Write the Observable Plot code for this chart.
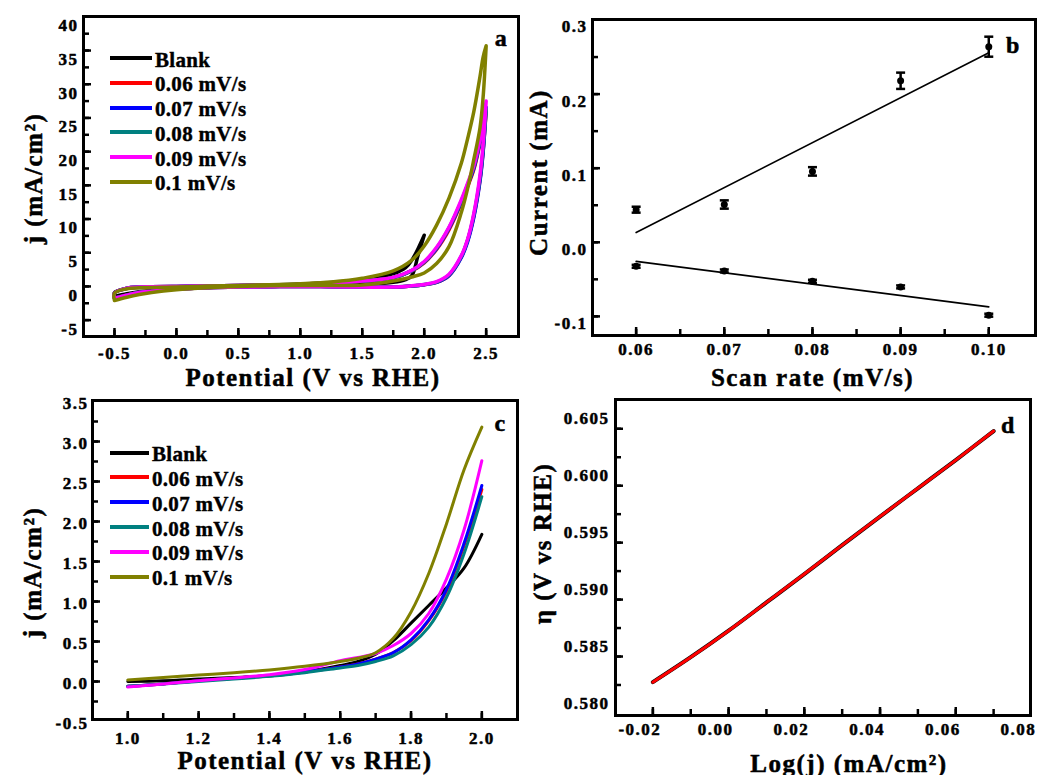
<!DOCTYPE html>
<html><head><meta charset="utf-8">
<script src="https://cdn.jsdelivr.net/npm/d3@7"></script>
<script src="https://cdn.jsdelivr.net/npm/@observablehq/plot@0.6"></script>
<style>
body{margin:0;background:#fff;}
#wrap{position:relative;width:1038px;height:775px;overflow:hidden;background:#fff;}
.panel{position:absolute;}
.panel svg text{stroke:#000;stroke-width:0.5px;stroke-linejoin:round;}
.legend{position:absolute;font-family:"Liberation Serif","Times New Roman",serif;font-weight:bold;font-size:21px;color:#000;-webkit-text-stroke:0.4px #000;}
.legend .row{position:absolute;left:0;height:24px;display:flex;align-items:center;white-space:nowrap;letter-spacing:0.3px;}
.legend .sw{display:inline-block;height:4px;margin-right:3px;}
.legend .tx{position:relative;top:2px;}
</style></head><body><div id="wrap"></div>
<script>
// ---------- shared series ----------
const seriesNames  = ["Blank", "0.06 mV/s", "0.07 mV/s", "0.08 mV/s", "0.09 mV/s", "0.1 mV/s"];
const seriesColors = ["#000000", "#ff0000", "#0000ff", "#008080", "#ff00ff", "#808000"];

// ---------- panel a : cyclic voltammograms ----------
const aGridV  = [-0.5,-0.4,-0.3,-0.2,0,0.25,0.5,0.75,1.0,1.25,1.5,1.75,1.9,2.0,2.1,2.2,2.3,2.35,2.4,2.45,2.475,2.5];
const aBlankV = [-0.5,-0.4,-0.3,-0.2,0,0.25,0.5,0.75,1.0,1.25,1.5,1.75,1.85,1.9,1.95,2.0];
const aBlankFwd = [-1.5,-1.1,-0.8,-0.6,-0.35,-0.15,-0.05,0.0,0.1,0.15,0.3,0.6,1.0,1.6,4.6,7.6];
const aBlankRev = [-0.9,-0.3,-0.15,-0.1,-0.05,0.0,0.1,0.2,0.35,0.6,1.0,1.9,2.8,3.9,5.6,7.6];
const a006Fwd = [-1.7,-1.25,-0.9,-0.7,-0.4,-0.2,-0.1,-0.05,0.0,-0.05,-0.1,-0.1,0.05,0.25,0.6,1.6,4.4,6.8,10.4,15.8,20.0,26.0];
const a006Rev = [-1.0,-0.25,-0.1,-0.05,0.0,0.08,0.15,0.2,0.3,0.5,0.8,1.3,2.3,3.5,5.5,8.4,12.4,14.8,17.3,21.2,23.8,26.0];
const a007Fwd = [-1.75,-1.3,-0.9,-0.7,-0.4,-0.2,-0.1,-0.05,0.0,-0.05,-0.1,-0.1,0.05,0.25,0.6,1.6,4.3,6.6,10.2,15.6,19.8,26.6];
const a007Rev = [-1.0,-0.25,-0.1,-0.05,0.0,0.08,0.15,0.2,0.3,0.5,0.8,1.3,2.35,3.6,5.6,8.6,12.6,15.0,17.5,21.4,24.0,26.6];
const a008Fwd = [-1.75,-1.3,-0.9,-0.7,-0.4,-0.2,-0.1,-0.05,0.0,-0.05,-0.1,-0.1,0.05,0.28,0.65,1.7,4.5,6.9,10.6,16.0,20.2,26.3];
const a008Rev = [-1.0,-0.25,-0.1,-0.05,0.0,0.08,0.15,0.2,0.3,0.5,0.8,1.3,2.35,3.6,5.7,8.7,12.7,15.1,17.7,21.6,24.2,26.3];
const a009Fwd = [-1.8,-1.3,-0.9,-0.7,-0.4,-0.2,-0.1,-0.05,0.0,-0.05,-0.1,-0.1,0.1,0.3,0.7,1.8,4.6,7.0,10.8,16.5,21.0,27.5];
const a009Rev = [-1.0,-0.25,-0.1,-0.05,0.0,0.08,0.15,0.2,0.3,0.5,0.8,1.35,2.4,3.7,5.8,8.8,12.9,15.3,17.9,21.8,24.5,27.5];
const a010Fwd = [-2.1,-1.6,-1.2,-0.9,-0.5,-0.2,0.0,0.1,0.15,0.15,0.2,0.8,1.4,2.0,3.4,5.9,11.0,14.5,18.8,23.5,28.0,35.7];
const a010Rev = [-1.0,-0.35,-0.2,-0.15,-0.1,0.05,0.15,0.25,0.4,0.65,1.2,2.3,3.9,6.0,9.1,13.1,18.3,21.9,25.9,31.1,34.0,35.7];

// ---------- panel b : peak current vs scan rate ----------
const bScan        = [0.06, 0.07, 0.08, 0.09, 0.10];
const bAnodic      = [0.044, 0.051, 0.0957, 0.218, 0.264];
const bAnodicErr   = [0.004, 0.0056, 0.0057, 0.011, 0.0135];
const bCathodic    = [-0.0324, -0.0387, -0.0526, -0.0602, -0.0984];
const bCathodicErr = [0.002, 0.002, 0.002, 0.002, 0.002];

// ---------- panel c : LSV ----------
const cV      = [1.0,1.1,1.2,1.3,1.4,1.5,1.6,1.65,1.7,1.75,1.8,1.85,1.9,1.95,2.0];
const cBlank  = [0.0,0.01,0.03,0.05,0.07,0.12,0.2,0.25,0.34,0.51,0.73,0.95,1.17,1.42,1.84];
const c006    = [-0.06,-0.03,0.01,0.04,0.075,0.12,0.18,0.22,0.28,0.36,0.51,0.76,1.13,1.7,2.4];
const c007    = [-0.06,-0.03,0.01,0.04,0.075,0.12,0.18,0.22,0.28,0.36,0.52,0.77,1.15,1.73,2.45];
const c008    = [-0.06,-0.03,0.0,0.03,0.065,0.11,0.17,0.2,0.25,0.32,0.46,0.68,1.05,1.6,2.31];
const c009    = [-0.07,-0.03,0.01,0.045,0.085,0.15,0.26,0.3,0.35,0.45,0.6,0.85,1.28,1.9,2.76];
const c010    = [0.02,0.05,0.08,0.11,0.145,0.19,0.25,0.29,0.36,0.54,0.87,1.35,1.97,2.65,3.18];

// ---------- panel d : Tafel ----------
const dLogJ = [-0.02,-0.01,0.0,0.01,0.02,0.03,0.04,0.05,0.06,0.07];
const dEta  = [0.58275,0.58494,0.58727,0.58975,0.59224,0.59478,0.59729,0.59977,0.60225,0.6048];

// ---------- tick values ----------
const aXLabels = [-0.5,0,0.5,1,1.5,2,2.5];
const aXTicks  = [-0.5,-0.25,0,0.25,0.5,0.75,1,1.25,1.5,1.75,2,2.25,2.5];
const aYLabels = [-5,0,5,10,15,20,25,30,35,40];
const aYTicks  = [-5,-2.5,0,2.5,5,7.5,10,12.5,15,17.5,20,22.5,25,27.5,30,32.5,35,37.5];
const bXLabels = [0.06,0.07,0.08,0.09,0.10];
const bXTicks  = [0.06,0.065,0.07,0.075,0.08,0.085,0.09,0.095,0.10];
const bYLabels = [-0.1,0.0,0.1,0.2,0.3];
const bYTicks  = [-0.1,-0.05,0,0.05,0.1,0.15,0.2,0.25];
const cXLabels = [1.0,1.2,1.4,1.6,1.8,2.0];
const cXTicks  = [1.0,1.1,1.2,1.3,1.4,1.5,1.6,1.7,1.8,1.9,2.0];
const cYLabels = [-0.5,0,0.5,1,1.5,2,2.5,3,3.5];
const cYTicks  = [-0.25,0,0.25,0.5,0.75,1,1.25,1.5,1.75,2,2.25,2.5,2.75,3,3.25];
const dXLabels = [-0.02,0,0.02,0.04,0.06,0.08];
const dXTicks  = [-0.02,-0.01,0,0.01,0.02,0.03,0.04,0.05,0.06,0.07];
const dYLabels = [0.580,0.585,0.590,0.595,0.600,0.605];
const dYTicks  = [0.5825,0.585,0.5875,0.59,0.5925,0.595,0.5975,0.6,0.6025,0.605];

// ---------- helpers ----------
function loop(V, fwd, rev) {
  const pts = V.map((v, i) => ({V: v, j: fwd[i]}));
  for (let i = V.length - 1; i >= 0; i--) pts.push({V: V[i], j: rev[i]});
  pts.push({V: V[0], j: fwd[0]});
  return pts;
}
const FONT = '"Liberation Serif","Times New Roman",serif';
const wrap = document.getElementById("wrap");

function panel(cfg) {
  const {left, top, width, height, m, xDomain, yDomain, xLabels, xTicks, yLabels, yTicks,
         xFmt, yFmt, xPad, yPad, xdx = 0, ydy = 0, marks, xTitle, yTitle, xT, yT, letter, lT} = cfg;
  const innerW = width - m[1] - m[3], innerH = height - m[0] - m[2];
  const svg = Plot.plot({
    width, height, marginTop: m[0], marginRight: m[1], marginBottom: m[2], marginLeft: m[3],
    x: {domain: xDomain}, y: {domain: yDomain},
    style: `font-family:${FONT};font-weight:bold;letter-spacing:1.5px;background:transparent;overflow:visible;color:#000;`,
    marks: [
      ...marks,
      Plot.tickX(xTicks, {x: d => d, insetTop: innerH - 6, stroke: "#000", strokeWidth: 2.5}),
      Plot.tickX(xLabels.filter(d => xTicks.includes(d)), {x: d => d, insetTop: innerH - 8, stroke: "#000", strokeWidth: 2.5}),
      Plot.tickY(yTicks, {y: d => d, insetRight: innerW - 6, stroke: "#000", strokeWidth: 2.5}),
      Plot.tickY(yLabels.filter(d => yTicks.includes(d)), {y: d => d, insetRight: innerW - 8, stroke: "#000", strokeWidth: 2.5}),
      Plot.frame({stroke: "#000", strokeWidth: 3}),
      Plot.axisX({ticks: xLabels, tickSize: 0, tickPadding: xPad, tickFormat: xFmt, fontSize: 17, dx: xdx, label: null, fill: "#000"}),
      Plot.axisY({ticks: yLabels, tickSize: 0, tickPadding: yPad, tickFormat: yFmt, fontSize: 17, dy: ydy, label: null, fill: "#000"}),
      Plot.text([xTitle], {text: d => d, frameAnchor: "bottom", dx: xT[0], dy: xT[1], fontSize: 25, lineAnchor: "middle", textAnchor: "middle", fill: "#000"}),
      Plot.text([yTitle], {text: d => d, frameAnchor: "left", dx: yT[0], dy: yT[1], rotate: -90, fontSize: 25, lineAnchor: "middle", textAnchor: "middle", fill: "#000"}),
      Plot.text([letter], {text: d => d, frameAnchor: "top-right", dx: lT[0], dy: lT[1], fontSize: 24, lineAnchor: "middle", textAnchor: "middle", fill: "#000"})
    ]
  });
  const div = document.createElement("div");
  div.className = "panel";
  div.style.left = left + "px"; div.style.top = top + "px";
  div.style.width = width + "px"; div.style.height = height + "px";
  div.appendChild(svg);
  wrap.appendChild(div);
}

function legend(left, top, swatchW, rowGap) {
  const lg = document.createElement("div");
  lg.className = "legend";
  lg.style.left = left + "px"; lg.style.top = top + "px";
  seriesNames.forEach((name, i) => {
    const row = document.createElement("div");
    row.className = "row";
    row.style.top = (i * rowGap - 12) + "px";
    row.innerHTML = `<span class="sw" style="width:${swatchW}px;background:${seriesColors[i]}"></span><span class="tx">${name}</span>`;
    lg.appendChild(row);
  });
  wrap.appendChild(lg);
}

const f1 = d => d.toFixed(1), f2 = d => d.toFixed(2), f3 = d => d.toFixed(3), f0 = d => d.toFixed(0);

// ---------- panel a ----------
const aLoops = [
  loop(aBlankV, aBlankFwd, aBlankRev),
  loop(aGridV, a006Fwd, a006Rev),
  loop(aGridV, a007Fwd, a007Rev),
  loop(aGridV, a008Fwd, a008Rev),
  loop(aGridV, a009Fwd, a009Rev),
  loop(aGridV, a010Fwd, a010Rev)
];
panel({
  left: 0, top: 0, width: 520, height: 390, m: [16, 2, 54, 83],
  xDomain: [-0.75, 2.761], yDomain: [-7.43, 40.05],
  xLabels: aXLabels, xTicks: aXTicks, yLabels: aYLabels, yTicks: aYTicks,
  xFmt: f1, yFmt: f0, xPad: 10, yPad: 5, ydy: 9,
  marks: aLoops.map((pts, i) => Plot.line(pts, {x: "V", y: "j", stroke: seriesColors[i], strokeWidth: 3.5, curve: "catmull-rom", strokeLinejoin: "round"})),
  xTitle: "Potential (V vs RHE)", yTitle: "j (mA/cm²)", xT: [12, 41], yT: [-50, 2],
  letter: "a", lT: [-17, 22]
});
legend(110, 58.3, 42, 24.7);

// ---------- panel b ----------
const bUp = bScan.map((s, i) => ({s, v: bAnodic[i], lo: bAnodic[i] - bAnodicErr[i], hi: bAnodic[i] + bAnodicErr[i]}));
const bDn = bScan.map((s, i) => ({s, v: bCathodic[i], lo: bCathodic[i] - bCathodicErr[i], hi: bCathodic[i] + bCathodicErr[i]}));
const bPts = bUp.concat(bDn);
const cap = {draw(ctx, size) { const r = Math.sqrt(size / Math.PI); ctx.moveTo(-r, 0); ctx.lineTo(r, 0); }};
panel({
  left: 520, top: 0, width: 518, height: 390, m: [19, 3, 55, 72],
  xDomain: [0.05505, 0.1053], yDomain: [-0.1258, 0.3007],
  xLabels: bXLabels, xTicks: bXTicks, yLabels: bYLabels, yTicks: bYTicks,
  xFmt: f2, yFmt: f1, xPad: 7, yPad: 5, ydy: 7,
  marks: [
    Plot.linearRegressionY(bUp, {x: "s", y: "v", ci: 0, stroke: "#000", strokeWidth: 1.6}),
    Plot.linearRegressionY(bDn, {x: "s", y: "v", ci: 0, stroke: "#000", strokeWidth: 1.6}),
    Plot.ruleX(bPts, {x: "s", y1: "lo", y2: "hi", stroke: "#000", strokeWidth: 2.5}),
    Plot.dot(bPts, {x: "s", y: "lo", symbol: cap, r: 4.5, stroke: "#000", strokeWidth: 2.5, fill: "none"}),
    Plot.dot(bPts, {x: "s", y: "hi", symbol: cap, r: 4.5, stroke: "#000", strokeWidth: 2.5, fill: "none"}),
    Plot.dot(bPts, {x: "s", y: "v", r: 3.5, fill: "#000", stroke: "none"})
  ],
  xTitle: "Scan rate (mV/s)", yTitle: "Current (mA)", xT: [-1.5, 42], yT: [-54, -5],
  letter: "b", lT: [-22, 26]
});

// ---------- panel c ----------
const cSeries = [cBlank, c006, c007, c008, c009, c010];
panel({
  left: 0, top: 385, width: 520, height: 390, m: [15, 3, 56, 92],
  xDomain: [0.9003, 2.1007], yDomain: [-0.475, 3.5125],
  xLabels: cXLabels, xTicks: cXTicks, yLabels: cYLabels, yTicks: cYTicks,
  xFmt: f1, yFmt: f1, xPad: 12, yPad: 4, ydy: 2,
  marks: cSeries.map((js, i) => Plot.line(cV.map((v, k) => ({V: v, j: js[k]})), {x: "V", y: "j", stroke: seriesColors[i], strokeWidth: 3, curve: "catmull-rom"})),
  xTitle: "Potential (V vs RHE)", yTitle: "j (mA/cm²)", xT: [0, 41], yT: [-60, 12.5],
  letter: "c", lT: [-17, 23]
});
legend(110, 385 + 67.7, 39, 24.8);

// ---------- panel d ----------
const dPts = dLogJ.map((x, i) => ({x, y: dEta[i]}));
panel({
  left: 520, top: 385, width: 518, height: 390, m: [14, 8, 60, 95],
  xDomain: [-0.02987, 0.07974], yDomain: [0.57982, 0.60757],
  xLabels: dXLabels, xTicks: dXTicks, yLabels: dYLabels, yTicks: dYTicks,
  xFmt: f2, yFmt: f3, xPad: 7, yPad: 6, xdx: -13, ydy: -10,
  marks: [
    Plot.line(dPts, {x: "x", y: "y", stroke: "#000", strokeWidth: 4, curve: "catmull-rom"}),
    Plot.line(dPts, {x: "x", y: "y", stroke: "#ff0000", strokeWidth: 3, curve: "catmull-rom"})
  ],
  xTitle: "Log(j) (mA/cm²)", yTitle: "η (V vs RHE)", xT: [26, 48], yT: [-73, -14],
  letter: "d", lT: [-22, 26]
});
</script></body></html>
